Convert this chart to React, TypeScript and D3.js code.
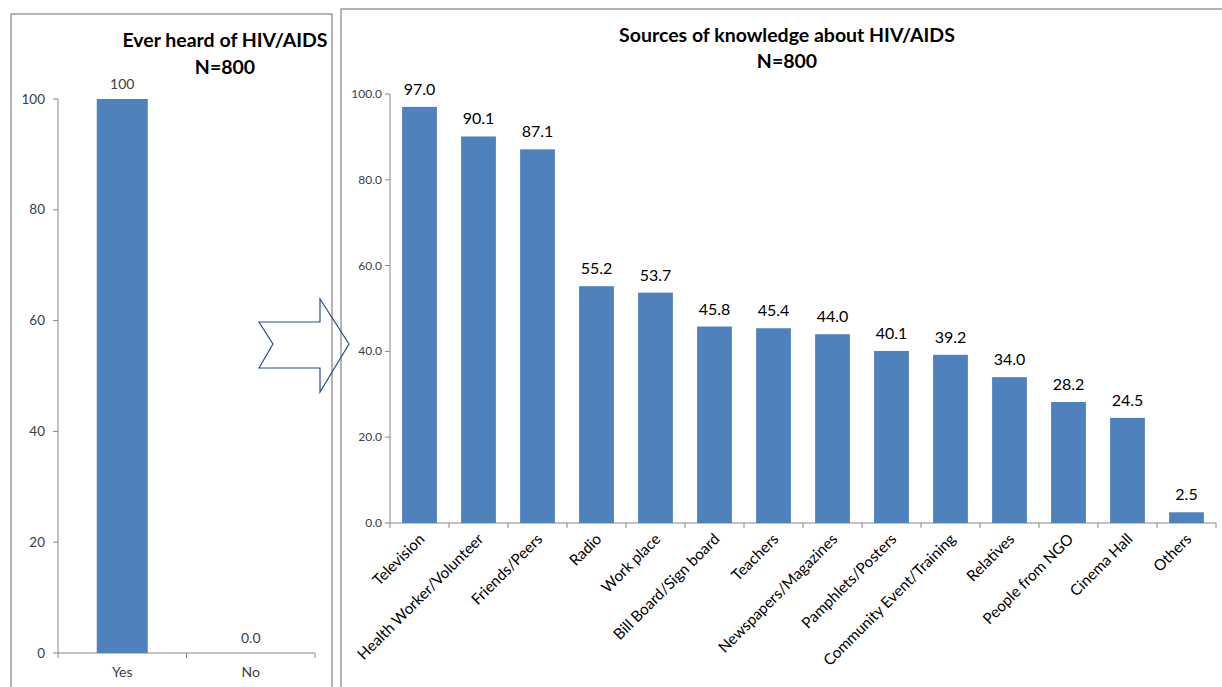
import React from "react";
import * as d3 from "d3";

const leftCategories = ["Yes", "No"];
const leftValues = [100, 0];
const leftValueLabels = ["100", "0.0"];
const leftTicks = [0, 20, 40, 60, 80, 100];

const rightCategories = [
  "Television",
  "Health Worker/Volunteer",
  "Friends/Peers",
  "Radio",
  "Work place",
  "Bill Board/Sign board",
  "Teachers",
  "Newspapers/Magazines",
  "Pamphlets/Posters",
  "Community Event/Training",
  "Relatives",
  "People from NGO",
  "Cinema Hall",
  "Others",
];
const rightValues = [97.0, 90.1, 87.1, 55.2, 53.7, 45.8, 45.4, 44.0, 40.1, 39.2, 34.0, 28.2, 24.5, 2.5];
const rightTicks = [0, 20, 40, 60, 80, 100];

const BAR = "#4f81bd";
const AXIS = "#868686";
const FONT = "Lato, 'Open Sans', sans-serif";

export default function App() {
  // left chart
  const lBand = d3.scaleBand<string>().domain(leftCategories).range([58, 315]);
  const ly = d3.scaleLinear().domain([0, 100]).range([653, 99]);

  // right chart
  const rBand = d3.scaleBand<string>().domain(rightCategories).range([390, 1216]);
  const rStep = rBand.step();
  const barW = rStep * 0.59;
  const ry = d3.scaleLinear().domain([0, 100]).range([523, 94]);

  const arrow = [
    [259, 322], [320, 322], [320, 299], [349, 344], [320, 392], [320, 368], [259, 368], [273, 344],
  ];
  const arrowPath = d3.line()(arrow as [number, number][]) + "Z";

  return (
    <div style={{ position: "absolute", left: 0, top: 0, width: 1222, height: 687, background: "#fff" }}>
      <svg width={1222} height={687} style={{ display: "block" }} fontFamily={FONT}>
        <rect x={0} y={0} width={1222} height={687} fill="#fff" />
        {/* panel borders */}
        <rect x={11} y={14} width={321} height={700} fill="none" stroke="#8c8c8c" strokeWidth={1.3} />
        <rect x={341} y={9} width={900} height={700} fill="none" stroke="#8c8c8c" strokeWidth={1.3} />

        {/* left chart */}
        <text x={225} y={47} textAnchor="middle" fontSize={19.5} fontWeight="bold" fill="#000">Ever heard of HIV/AIDS</text>
        <text x={225} y={74} textAnchor="middle" fontSize={19.5} fontWeight="bold" fill="#000">N=800</text>
        <line x1={58} x2={58} y1={99} y2={653} stroke={AXIS} />
        {leftTicks.map((t) => (
          <g key={t}>
            <line x1={53} x2={58} y1={ly(t)} y2={ly(t)} stroke={AXIS} />
            <text x={45} y={ly(t) + 4.5} textAnchor="end" fontSize={13.5} fill="#404040">{t}</text>
          </g>
        ))}
        <line x1={58} x2={315} y1={653} y2={653} stroke={AXIS} />
        {[58, ...leftCategories.map((c) => (lBand(c) as number) + lBand.step())].map((x, i) => (
          <line key={i} x1={x} x2={x} y1={653} y2={658} stroke={AXIS} />
        ))}
        {leftCategories.map((c, i) => {
          const cx = (lBand(c) as number) + lBand.step() / 2;
          const bw = 51;
          return (
            <g key={c}>
              {leftValues[i] > 0 && (
                <rect x={cx - bw / 2} y={ly(leftValues[i])} width={bw} height={653 - ly(leftValues[i])} fill={BAR} />
              )}
              <text x={cx} y={ly(leftValues[i]) - 10} textAnchor="middle" fontSize={14} fill="#404040">{leftValueLabels[i]}</text>
              <text x={cx} y={677} textAnchor="middle" fontSize={14} fill="#404040">{c}</text>
            </g>
          );
        })}

        {/* arrow */}
        <path d={arrowPath} fill="none" stroke="#2f4f7f" strokeWidth={1.2} />

        {/* right chart */}
        <text x={787} y={42} textAnchor="middle" fontSize={19.5} fontWeight="bold" fill="#000">Sources of knowledge about HIV/AIDS</text>
        <text x={787} y={68} textAnchor="middle" fontSize={19.5} fontWeight="bold" fill="#000">N=800</text>
        <line x1={390} x2={390} y1={94} y2={523} stroke={AXIS} />
        {rightTicks.map((t) => (
          <g key={t}>
            <line x1={385} x2={390} y1={ry(t)} y2={ry(t)} stroke={AXIS} />
            <text x={382} y={ry(t) + 4} textAnchor="end" fontSize={12} fill="#404040">{t.toFixed(1)}</text>
          </g>
        ))}
        <line x1={390} x2={1216} y1={523} y2={523} stroke={AXIS} />
        {d3.range(rightCategories.length + 1).map((i) => (
          <line key={i} x1={390 + i * rStep} x2={390 + i * rStep} y1={523} y2={528} stroke={AXIS} />
        ))}
        {rightCategories.map((c, i) => {
          const cx = (rBand(c) as number) + rStep / 2;
          const v = rightValues[i];
          return (
            <g key={c}>
              <rect x={cx - barW / 2} y={ry(v)} width={barW} height={523 - ry(v)} fill={BAR} />
              <text x={cx} y={ry(v) - 12} textAnchor="middle" fontSize={16} fill="#000">{v.toFixed(1)}</text>
              <text
                transform={`translate(${cx + 6},${540}) rotate(-45)`}
                textAnchor="end"
                fontSize={15.3}
                fill="#000"
              >
                {c}
              </text>
            </g>
          );
        })}
      </svg>
    </div>
  );
}
